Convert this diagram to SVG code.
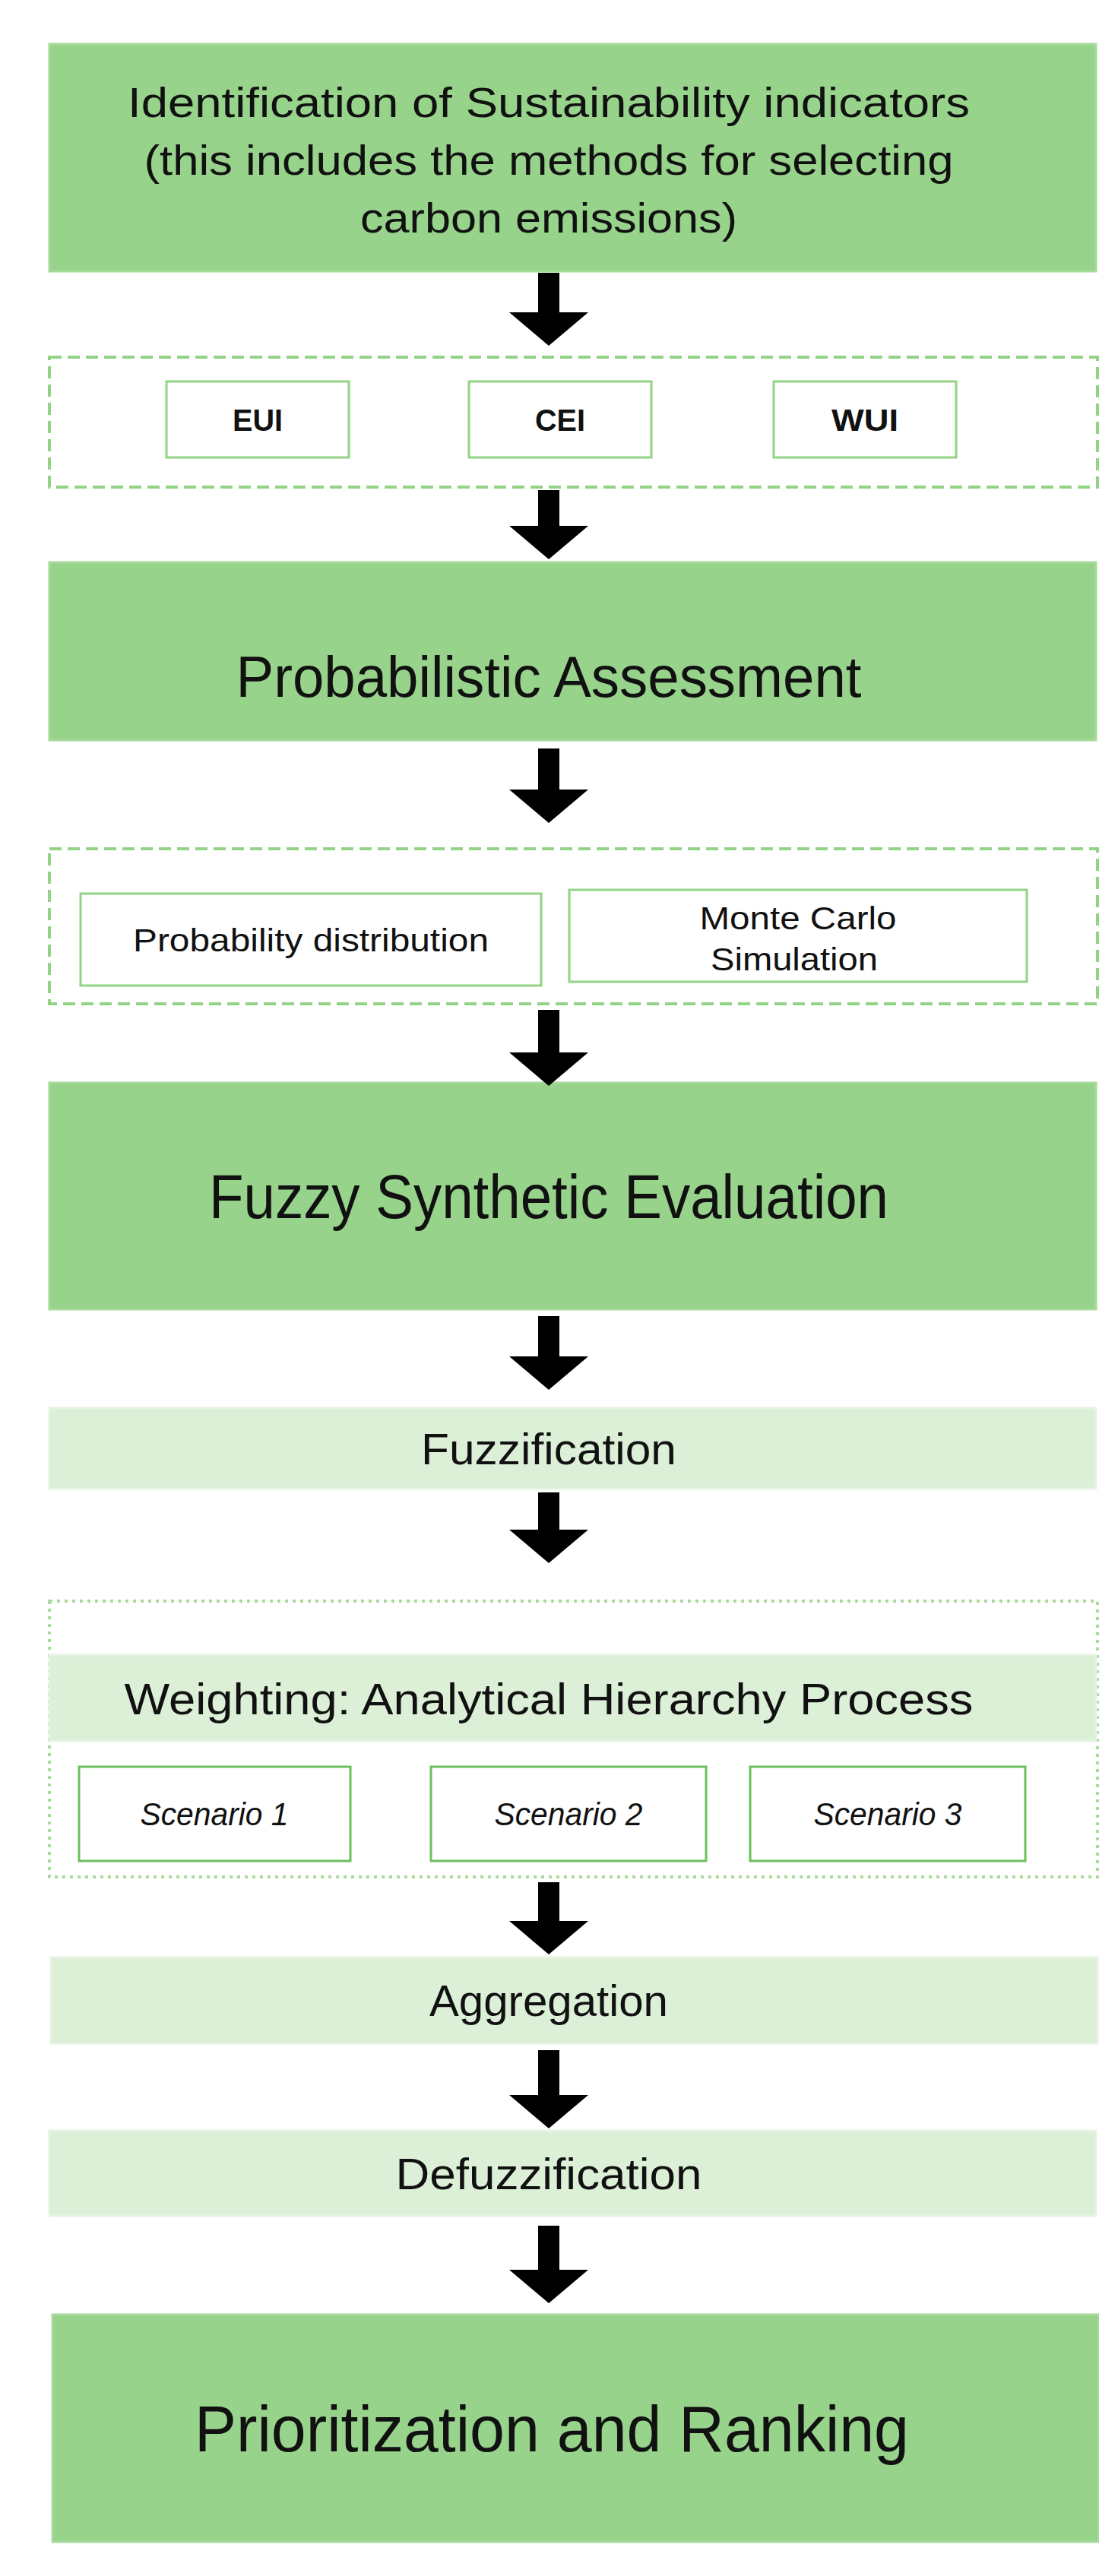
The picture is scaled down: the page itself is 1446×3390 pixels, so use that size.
<svg xmlns="http://www.w3.org/2000/svg" width="1446" height="3390" viewBox="0 0 1446 3390">
<style>
text{font-family:"Liberation Sans",Arial,sans-serif;fill:#111;text-anchor:middle;dominant-baseline:central}
.big{fill:#97d38b;stroke:#a6da9b;stroke-width:3}
.light{fill:#dcefd7;stroke:#e6f3e2;stroke-width:3}
.dash{fill:none;stroke:#93d386;stroke-width:4;stroke-dasharray:16 8}
.dot{fill:none;stroke:#a9dc9c;stroke-width:4;stroke-dasharray:4 6}
.sub{fill:#fff;stroke:#93d386;stroke-width:3}
.scn{fill:#fff;stroke:#6cc05c;stroke-width:3}
.arr{fill:#000}
</style>
<g id="n1"><rect class="big" x="65" y="58" width="1377" height="299"/>
<text x="722" y="134" font-size="56" textLength="1108" lengthAdjust="spacingAndGlyphs">Identification of Sustainability indicators</text>
<text x="722" y="210" font-size="56" textLength="1065" lengthAdjust="spacingAndGlyphs">(this includes the methods for selecting</text>
<text x="722" y="286" font-size="56" textLength="496" lengthAdjust="spacingAndGlyphs">carbon emissions)</text></g>
<g id="g1"><rect class="dash" x="65" y="470" width="1379" height="171"/>
<g id="eui"><rect class="sub" x="219" y="502" width="240" height="100"/><text x="339" y="553" font-size="40" font-weight="bold" textLength="66" lengthAdjust="spacingAndGlyphs">EUI</text></g>
<g id="cei"><rect class="sub" x="617" y="502" width="240" height="100"/><text x="737" y="553" font-size="40" font-weight="bold" textLength="66" lengthAdjust="spacingAndGlyphs">CEI</text></g>
<g id="wui"><rect class="sub" x="1018" y="502" width="240" height="100"/><text x="1138" y="553" font-size="40" font-weight="bold" textLength="88" lengthAdjust="spacingAndGlyphs">WUI</text></g></g>
<g id="n2"><rect class="big" x="65" y="740" width="1377" height="234"/>
<text x="722" y="890" font-size="76" textLength="823" lengthAdjust="spacingAndGlyphs">Probabilistic Assessment</text></g>
<g id="g2"><rect class="dash" x="65" y="1117" width="1379" height="204"/>
<g id="pd"><rect class="sub" x="106" y="1176" width="606" height="121"/><text x="409" y="1237" font-size="42" textLength="468" lengthAdjust="spacingAndGlyphs">Probability distribution</text></g>
<g id="mc"><rect class="sub" x="749" y="1171" width="602" height="121"/><text x="1050" y="1208" font-size="42" textLength="259" lengthAdjust="spacingAndGlyphs">Monte Carlo</text><text x="1045" y="1262" font-size="42" textLength="220" lengthAdjust="spacingAndGlyphs">Simulation</text></g></g>
<g id="n3"><rect class="big" x="65" y="1425" width="1377" height="298"/>
<text x="722" y="1574" font-size="82" textLength="894" lengthAdjust="spacingAndGlyphs">Fuzzy Synthetic Evaluation</text></g>
<g id="n4"><rect class="light" x="65" y="1853" width="1377" height="106"/>
<text x="722" y="1906" font-size="58" textLength="336" lengthAdjust="spacingAndGlyphs">Fuzzification</text></g>
<g id="g3"><rect class="dot" x="65" y="2107" width="1379" height="363"/>
<g id="n5"><rect class="light" x="65" y="2178" width="1377" height="113"/><text x="722" y="2235" font-size="58" textLength="1117" lengthAdjust="spacingAndGlyphs">Weighting: Analytical Hierarchy Process</text></g>
<g id="s1"><rect class="scn" x="104" y="2325" width="357" height="124"/><text x="282" y="2387" font-size="42" font-style="italic" textLength="195" lengthAdjust="spacingAndGlyphs">Scenario 1</text></g>
<g id="s2"><rect class="scn" x="567" y="2325" width="362" height="124"/><text x="748" y="2387" font-size="42" font-style="italic" textLength="195" lengthAdjust="spacingAndGlyphs">Scenario 2</text></g>
<g id="s3"><rect class="scn" x="987" y="2325" width="362" height="124"/><text x="1168" y="2387" font-size="42" font-style="italic" textLength="195" lengthAdjust="spacingAndGlyphs">Scenario 3</text></g></g>
<g id="n6"><rect class="light" x="67" y="2576" width="1377" height="113"/><text x="722" y="2632" font-size="58" textLength="314" lengthAdjust="spacingAndGlyphs">Aggregation</text></g>
<g id="n7"><rect class="light" x="65" y="2804" width="1377" height="112"/><text x="722" y="2860" font-size="58" textLength="403" lengthAdjust="spacingAndGlyphs">Defuzzification</text></g>
<g id="n8"><rect class="big" x="69" y="3046" width="1377" height="299"/><text x="726" y="3196" font-size="86" textLength="940" lengthAdjust="spacingAndGlyphs">Prioritization and Ranking</text></g>
<g id="connectors">
<path class="arr" d="M708 359h28v52h38l-52 44l-52-44h38z"/>
<path class="arr" d="M708 645h28v47h38l-52 44l-52-44h38z"/>
<path class="arr" d="M708 985h28v54h38l-52 44l-52-44h38z"/>
<path class="arr" d="M708 1329h28v56h38l-52 44l-52-44h38z"/>
<path class="arr" d="M708 1732h28v53h38l-52 44l-52-44h38z"/>
<path class="arr" d="M708 1964h28v49h38l-52 44l-52-44h38z"/>
<path class="arr" d="M708 2477h28v51h38l-52 44l-52-44h38z"/>
<path class="arr" d="M708 2698h28v59h38l-52 44l-52-44h38z"/>
<path class="arr" d="M708 2929h28v58h38l-52 44l-52-44h38z"/>
</g>
</svg>
